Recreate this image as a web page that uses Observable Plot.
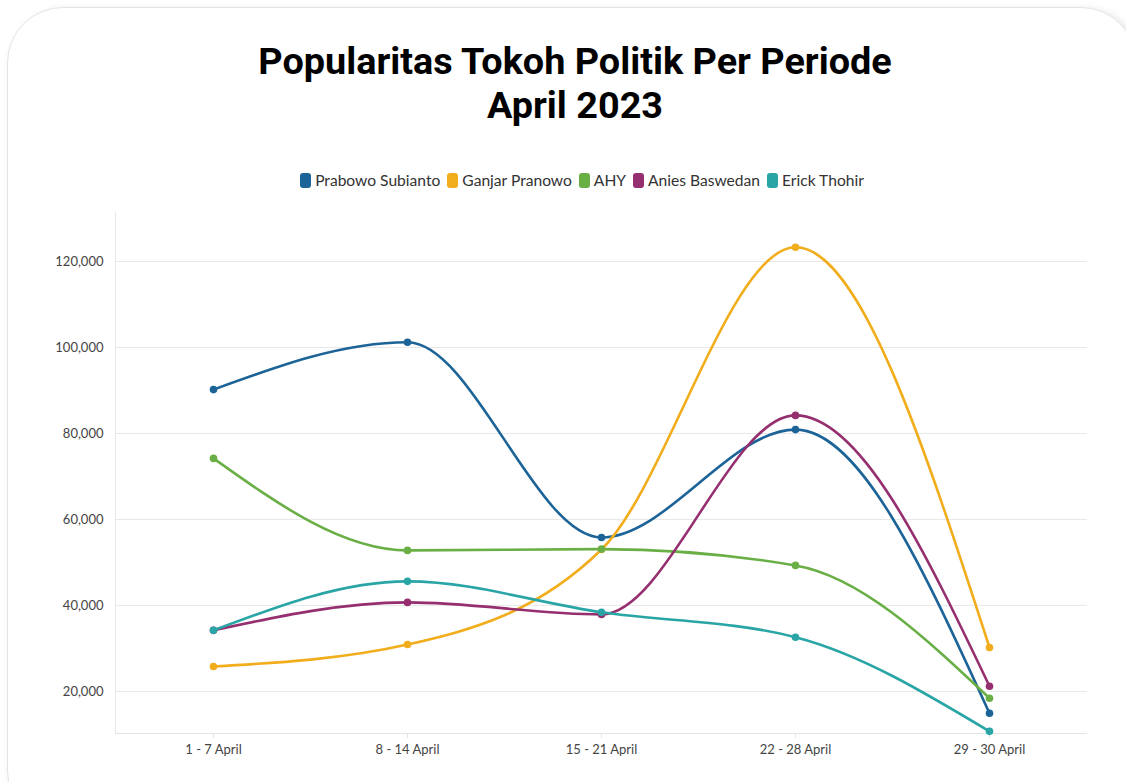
<!DOCTYPE html>
<html>
<head>
<meta charset="utf-8">
<script src="https://cdn.jsdelivr.net/npm/d3@7"></script>
<script src="https://cdn.jsdelivr.net/npm/@observablehq/plot@0.6"></script>
<style>
  html, body { margin: 0; padding: 0; background: #ffffff; width: 1126px; height: 782px; overflow: hidden; }
  #card { position: absolute; left: 7px; top: 7px; width: 1130px; height: 820px; border: 1.5px solid #e4e4e4; border-radius: 56px; background: #fff; box-shadow: 4px 3px 10px rgba(0,0,0,0.12); box-sizing: border-box; }
  #title { position: absolute; left: 0; width: 1150px; top: 39px; text-align: center; font-family: Roboto, sans-serif; font-weight: 700; font-size: 37.8px; line-height: 44px; color: #000; }
  #legend { position: absolute; left: 0; width: 1164px; top: 171px; display: flex; justify-content: center; gap: 7px; font-family: Lato, sans-serif; font-size: 15.6px; color: #333; }
  .item { display: flex; align-items: center; gap: 4px; }
  .sw { width: 11px; height: 15px; border-radius: 3px; display: inline-block; }
  #chart { position: absolute; left: 0; top: 200px; }
</style>
</head>
<body>
<div id="card"></div>
<div id="title">Popularitas Tokoh Politik Per Periode<br>April 2023</div>
<div id="legend"></div>
<div id="chart"></div>
<script>
const periods = ["1 - 7 April", "8 - 14 April", "15 - 21 April", "22 - 28 April", "29 - 30 April"];
const seriesNames = ["Prabowo Subianto", "Ganjar Pranowo", "AHY", "Anies Baswedan", "Erick Thohir"];
const seriesColors = ["#1c6497", "#f1ad1b", "#6aaf46", "#952f6f", "#2aa5a6"];
const prabowo = [90200, 101200, 55800, 80900, 14900];
const ganjar = [25800, 30900, 53000, 123300, 30200];
const ahy = [74200, 52800, 53100, 49300, 18400];
const anies = [34200, 40700, 37900, 84200, 21200];
const erick = [34200, 45600, 38400, 32600, 10700];
const yTicks = [20000, 40000, 60000, 80000, 100000, 120000];

const allValues = [prabowo, ganjar, ahy, anies, erick];
const data = [];
seriesNames.forEach((name, i) => {
  periods.forEach((p, j) => data.push({ series: name, period: p, value: allValues[i][j] }));
});

// legend
const legend = document.getElementById("legend");
seriesNames.forEach((name, i) => {
  const it = document.createElement("div");
  it.className = "item";
  it.innerHTML = `<span class="sw" style="background:${seriesColors[i]}"></span><span>${name}</span>`;
  legend.appendChild(it);
});

const yMin = 10200, yMax = 131400;
const chart = Plot.plot({
  width: 1126,
  height: 570,
  marginLeft: 115,
  marginRight: 39,
  marginTop: 12,
  marginBottom: 37,
  style: { fontFamily: "Lato, sans-serif", fontSize: "13px", color: "#444", background: "transparent" },
  x: { type: "point", domain: periods, padding: 0.5, label: null },
  y: { domain: [yMin, yMax], label: null },
  color: { domain: seriesNames, range: seriesColors },
  marks: [
    Plot.gridY(yTicks, { stroke: "#e8e8e8", strokeOpacity: 1, strokeWidth: 1 }),
    Plot.ruleY([yMin], { stroke: "#e4e4e4", strokeWidth: 1.2 }),
    Plot.frame({ anchor: "left", stroke: "#e8e8e8", strokeOpacity: 1 }),
    Plot.axisY(yTicks, { tickFormat: d3.format(","), tickSize: 0, tickPadding: 12, fill: "#444", fontSize: 13 }),
    Plot.axisX({ tickSize: 5, tickPadding: 6, stroke: "#e4e4e4", fill: "#444", fontSize: 13 }),
    Plot.line(data, { x: "period", y: "value", z: "series", stroke: "series", strokeWidth: 2.6, curve: "monotone-x" }),
    Plot.dot(data, { x: "period", y: "value", fill: "series", r: 3.8 })
  ]
});
document.getElementById("chart").appendChild(chart);
</script>
</body>
</html>
